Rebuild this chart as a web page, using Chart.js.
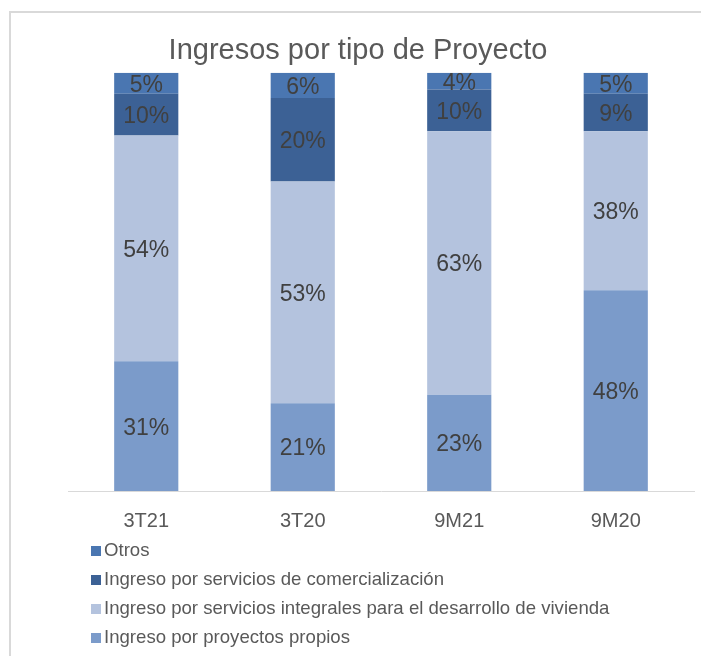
<!DOCTYPE html>
<html>
<head>
<meta charset="utf-8">
<script src="https://cdn.jsdelivr.net/npm/chart.js@4/dist/chart.umd.min.js"></script>
<style>
	html, body { margin: 0; padding: 0; background: #fff; }
	#wrap { position: relative; width: 701px; height: 656px; }
</style>
</head>
<body>
<div id="wrap"><canvas id="myChart" width="701" height="656"></canvas></div>
<script>
const categories = ["3T21", "3T20", "9M21", "9M20"];
const proyectosPropios = [31, 21, 23, 48];
const serviciosIntegrales = [54, 53, 63, 38];
const serviciosComercializacion = [10, 20, 10, 9];
const otros = [5, 6, 4, 5];

const FONT = "'Liberation Sans', Arial, sans-serif";

function bar(label, data, color) {
	return {
		label,
		data,
		backgroundColor: color,
		borderWidth: 0,
		categoryPercentage: 1,
		barPercentage: 0.41
	};
}

// frame round the whole chart, like the Excel chart border
const framePlugin = {
	id: "frame",
	beforeDraw(chart) {
		const ctx = chart.ctx;
		ctx.save();
		ctx.strokeStyle = "#d9d9d9";
		ctx.lineWidth = 2;
		ctx.strokeRect(10, 12, 720, 700);
		ctx.restore();
	}
};

// value labels in the middle of each segment
const valueLabels = {
	id: "valueLabels",
	afterDatasetsDraw(chart) {
		const ctx = chart.ctx;
		ctx.save();
		ctx.font = "23px " + FONT;
		ctx.fillStyle = "#404040";
		ctx.textAlign = "center";
		ctx.textBaseline = "middle";
		chart.data.datasets.forEach((ds, i) => {
			chart.getDatasetMeta(i).data.forEach((el, j) => {
				const y = (el.y + el.base) / 2 + 2;
				ctx.fillText(ds.data[j] + "%", el.x, y);
			});
		});
		ctx.restore();
	}
};

// vertical legend under the axis, top series first
const stackedLegend = {
	id: "stackedLegend",
	afterDraw(chart) {
		const ctx = chart.ctx;
		const datasets = chart.data.datasets.slice().reverse();
		ctx.save();
		ctx.font = "18.6px " + FONT;
		ctx.textBaseline = "middle";
		datasets.forEach((ds, i) => {
			const y = chart.chartArea.bottom + 60 + i * 29;
			ctx.fillStyle = ds.backgroundColor;
			ctx.fillRect(91, y - 5, 10, 10);
			ctx.fillStyle = "#595959";
			ctx.fillText(ds.label, 104, y);
		});
		ctx.restore();
	}
};

const datasets = [
	bar("Ingreso por proyectos propios", proyectosPropios, "#7b9bca"),
	bar("Ingreso por servicios integrales para el desarrollo de vivienda", serviciosIntegrales, "#b4c3de"),
	bar("Ingreso por servicios de comercialización", serviciosComercializacion, "#3c6195"),
	bar("Otros", otros, "#4a76b1")
];

const ctx = document.getElementById("myChart").getContext("2d");
const myChart = new Chart(ctx, {
	type: "bar",
	data: {
		labels: categories,
		datasets
	},
	options: {
		responsive: false,
		animation: false,
		layout: {
			padding: { left: 22, right: 7, top: 0, bottom: 113 }
		},
		scales: {
			x: {
				stacked: true,
				grid: { display: false },
				border: { display: true, color: "#d9d9d9", width: 1 },
				ticks: {
					padding: 10,
					color: "#595959",
					font: { family: FONT, size: 20 }
				}
			},
			y: {
				stacked: true,
				min: 0,
				max: 100,
				grid: { display: false },
				border: { display: false },
				ticks: { display: false },
				afterFit: scale => { scale.width = 46; }
			}
		},
		plugins: {
			legend: { display: false },
			tooltip: { enabled: false },
			title: {
				display: true,
				text: "Ingresos por tipo de Proyecto",
				color: "#595959",
				font: { family: FONT, size: 29, weight: "normal" },
				padding: { top: 34, bottom: 4 }
			}
		}
	},
	plugins: [framePlugin, valueLabels, stackedLegend]
});
</script>
</body>
</html>
